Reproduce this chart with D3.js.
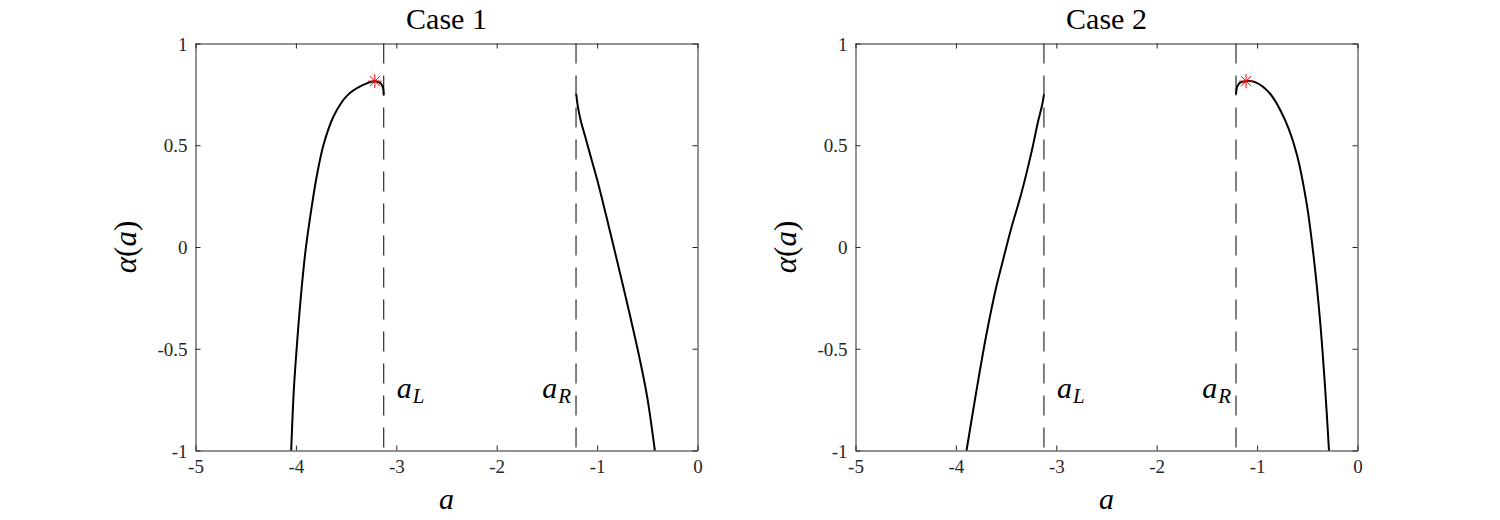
<!DOCTYPE html>
<html>
<head>
<meta charset="utf-8">
<script src="https://cdn.jsdelivr.net/npm/d3@7"></script>
<style>
  body { margin: 0; background: #fff; }
  svg text { font-family: 'Liberation Serif', 'Times New Roman', serif; }
</style>
</head>
<body>
<script>
// axis ticks
var xTicks = [-5, -4, -3, -2, -1, 0]
var xTickLabels = ["-5", "-4", "-3", "-2", "-1", "0"]
var yTicks = [-1, -0.5, 0, 0.5, 1]
var yTickLabels = ["-1", "-0.5", "0", "0.5", "1"]
var titles = ["Case 1", "Case 2"]

// boundary values a_L, a_R (dashed lines)
var aL = [-3.125, -3.123]
var aR = [-1.21, -1.21]

// Case 1 branches
var case1Left = [[-4.047,-1.0],[-4.021,-0.705],[-3.994,-0.509],[-3.954,-0.263],[-3.904,-0.017],[-3.838,0.212],[-3.788,0.36],[-3.722,0.507],[-3.622,0.645],[-3.49,0.744],[-3.34,0.794],[-3.214,0.815],[-3.16,0.806],[-3.135,0.787],[-3.125,0.745]]
var case1Right = [[-1.208,0.753],[-1.195,0.70],[-1.165,0.625],[-1.12,0.545],[-1.05,0.42],[-0.983,0.30],[-0.883,0.10],[-0.8,-0.07],[-0.684,-0.312],[-0.58,-0.54],[-0.50,-0.74],[-0.425,-1.0]]
// Case 2 branches
var case2Left = [[-3.894,-1.0],[-3.80,-0.72],[-3.70,-0.44],[-3.60,-0.20],[-3.549,-0.10],[-3.45,0.09],[-3.35,0.26],[-3.25,0.46],[-3.18,0.62],[-3.14,0.70],[-3.123,0.75]]
var case2Right = [[-1.21,0.75],[-1.2,0.785],[-1.17,0.808],[-1.11,0.815],[-1.02,0.81],[-0.87,0.753],[-0.72,0.622],[-0.606,0.458],[-0.506,0.212],[-0.44,-0.033],[-0.373,-0.361],[-0.323,-0.689],[-0.284,-1.0]]

// maxima (red stars)
var stars = [[-3.214, 0.815], [-1.11, 0.815]]

var curves = [[case1Left, case1Right], [case2Left, case2Right]]

var W = 1500, H = 520
var svg = d3.select("body").append("svg").attr("width", W).attr("height", H)

var panelLeft = [195.5, 855.5]
var panelTop = 43.5, pw = 502, ph = 407
var serif = "'Liberation Serif', 'Times New Roman', serif"

for (var p = 0; p < 2; p++) {
  var g = svg.append("g").attr("transform", "translate(" + panelLeft[p] + "," + panelTop + ")")
  var xs = d3.scaleLinear().domain([-5, 0]).range([0, pw])
  var ys = d3.scaleLinear().domain([-1, 1]).range([ph, 0])

  // dashed lines a_L, a_R
  g.selectAll("line.dash")
    .data([aL[p], aR[p]])
    .enter().append("line")
    .attr("class", "dash")
    .attr("x1", d => xs(d)).attr("x2", d => xs(d))
    .attr("y1", 0).attr("y2", ph)
    .attr("stroke", "#000")
    .attr("stroke-width", 1)
    .attr("stroke-dasharray", "20,12")

  // curves
  var lineGen = d3.line().x(d => xs(d[0])).y(d => ys(d[1])).curve(d3.curveCatmullRom)
  g.selectAll("path.curve")
    .data(curves[p])
    .enter().append("path")
    .attr("class", "curve")
    .attr("d", lineGen)
    .attr("fill", "none")
    .attr("stroke", "#000")
    .attr("stroke-width", 2)

  // star marker
  var s = stars[p], r = 7
  var sg = g.append("g").attr("transform", "translate(" + xs(s[0]) + "," + ys(s[1]) + ")")
  var k = r * 0.72
  var segs = [[-r,0,r,0],[0,-r,0,r],[-k,-k,k,k],[-k,k,k,-k]]
  sg.selectAll("line").data(segs).enter().append("line")
    .attr("x1", d => d[0]).attr("y1", d => d[1])
    .attr("x2", d => d[2]).attr("y2", d => d[3])
    .attr("stroke", "#ff0000").attr("stroke-width", 1)

  // axes: ticks inside, box
  var xAxis = d3.axisBottom(xs).tickValues(xTicks).tickSizeInner(-5).tickSizeOuter(0).tickPadding(9).tickFormat((d, i) => xTickLabels[i])
  var gx = g.append("g").attr("transform", "translate(0," + ph + ")").call(xAxis)
  var gxt = g.append("g").call(d3.axisTop(xs).tickValues(xTicks).tickSizeInner(-5).tickSizeOuter(0).tickFormat(""))
  var yAxis = d3.axisLeft(ys).tickValues(yTicks).tickSizeInner(-5).tickSizeOuter(0).tickPadding(8).tickFormat((d, i) => yTickLabels[i])
  var gy = g.append("g").call(yAxis)
  var gyr = g.append("g").attr("transform", "translate(" + pw + ",0)").call(d3.axisRight(ys).tickValues(yTicks).tickSizeInner(-5).tickSizeOuter(0).tickFormat(""))
  ;[gx, gxt, gy, gyr].forEach(a => {
    a.attr("font-family", serif).attr("font-size", 19)
    a.select(".domain").attr("stroke", "#262626").attr("stroke-width", 1)
    a.selectAll(".tick line").attr("stroke", "#262626")
    a.selectAll("text").attr("fill", "#262626").attr("font-size", 19)
  })
  gx.selectAll(".tick text").attr("dy", "0.71em")
  gy.selectAll(".tick text").attr("dy", "0.35em")

  // title
  g.append("text")
    .attr("x", pw / 2).attr("y", -15)
    .attr("text-anchor", "middle")
    .attr("font-size", 30)
    .attr("fill", "#000")
    .text(titles[p])

  // x label
  g.append("text")
    .attr("x", pw / 2).attr("y", ph + 58)
    .attr("text-anchor", "middle")
    .attr("font-size", 30)
    .attr("font-style", "italic")
    .attr("fill", "#000")
    .text("a")

  // y label
  var yl = g.append("text")
    .attr("transform", "translate(-60," + (ph / 2) + ") rotate(-90)")
    .attr("text-anchor", "middle")
    .attr("font-size", 31)
    .attr("font-style", "italic")
    .attr("fill", "#000")
  yl.append("tspan").text("\u03B1")
  yl.append("tspan").attr("font-style", "normal").text("(")
  yl.append("tspan").text("a")
  yl.append("tspan").attr("font-style", "normal").text(")")

  // a_L, a_R labels
  var tL = g.append("text")
    .attr("x", xs(aL[p]) + 13).attr("y", ys(-0.74))
    .attr("font-size", 30).attr("font-style", "italic").attr("fill", "#000")
  tL.append("tspan").text("a")
  tL.append("tspan").attr("font-size", 21).attr("dx", 1).attr("dy", 5).text("L")

  var tR = g.append("text")
    .attr("x", xs(aR[p]) - 5).attr("y", ys(-0.74))
    .attr("text-anchor", "end")
    .attr("font-size", 30).attr("font-style", "italic").attr("fill", "#000")
  tR.append("tspan").text("a")
  tR.append("tspan").attr("font-size", 21).attr("dx", 1).attr("dy", 5).text("R")
}
</script>
</body>
</html>
